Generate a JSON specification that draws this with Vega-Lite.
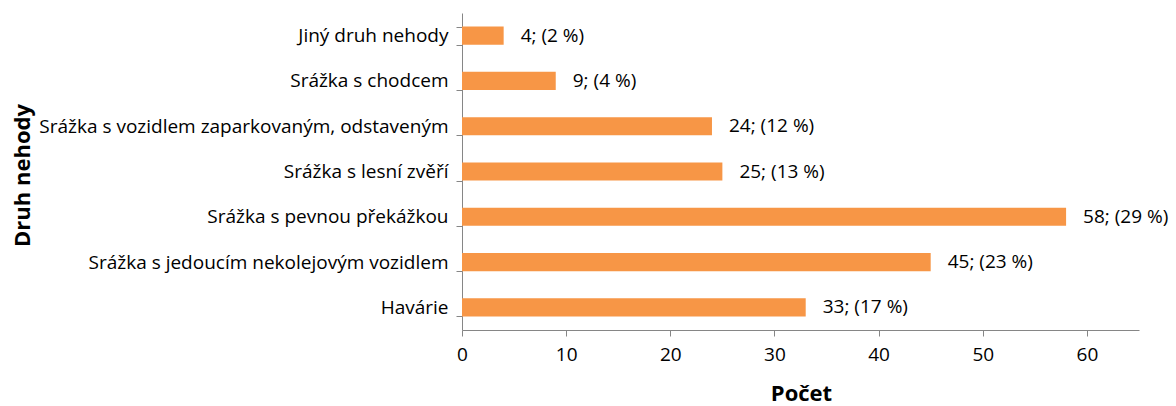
{
  "$schema": "https://vega.github.io/schema/vega-lite/v6.json",
  "width": 677,
  "height": 317,
  "autosize": {"type": "none"},
  "padding": {"left": 462, "top": 13, "right": 37, "bottom": 76},
  "background": "white",
  "config": {
    "view": {"stroke": null},
    "font": "Open Sans",
    "axis": {"grid": false, "domainColor": "#868686", "tickColor": "#868686", "labelColor": "#000000", "labelFont": "Open Sans", "labelFontSize": 19, "labelLimit": 600, "titleFont": "Open Sans", "titleFontSize": 22, "titleFontWeight": "bold", "titleColor": "#000000"}
  },
  "data": {
    "values": [
      {"druh": "Jiný druh nehody", "pocet": 4, "label": "4; (2 %)"},
      {"druh": "Srážka s chodcem", "pocet": 9, "label": "9; (4 %)"},
      {"druh": "Srážka s vozidlem zaparkovaným, odstaveným", "pocet": 24, "label": "24; (12 %)"},
      {"druh": "Srážka s lesní zvěří", "pocet": 25, "label": "25; (13 %)"},
      {"druh": "Srážka s pevnou překážkou\u00a0", "pocet": 58, "label": "58; (29 %)"},
      {"druh": "Srážka s jedoucím nekolejovým vozidlem", "pocet": 45, "label": "45; (23 %)"},
      {"druh": "Havárie", "pocet": 33, "label": "33; (17 %)"}
    ]
  },
  "encoding": {
    "y": {
      "field": "druh", "type": "nominal", "sort": null,
      "scale": {"paddingInner": 0.6, "paddingOuter": 0.3},
      "axis": {"title": "Druh nehody", "tickBand": "extent", "tickSize": 6, "labelPadding": 8, "titleX": -440, "titleY": 162, "titleAngle": -90, "titleAlign": "center", "titleBaseline": "middle"}
    },
    "x": {
      "field": "pocet", "type": "quantitative",
      "scale": {"domain": [0, 65], "nice": false},
      "axis": {"title": "Počet", "values": [0, 10, 20, 30, 40, 50, 60], "tickSize": 6, "labelPadding": 9, "titleX": 339, "titleY": 63, "titleBaseline": "middle", "labelFlush": false}
    }
  },
  "layer": [
    {"mark": {"type": "bar", "color": "#F79646"}},
    {"mark": {"type": "text", "align": "left", "baseline": "middle", "dx": 17, "fontSize": 19, "font": "Open Sans", "color": "#000000"}, "encoding": {"text": {"field": "label"}}}
  ]
}
